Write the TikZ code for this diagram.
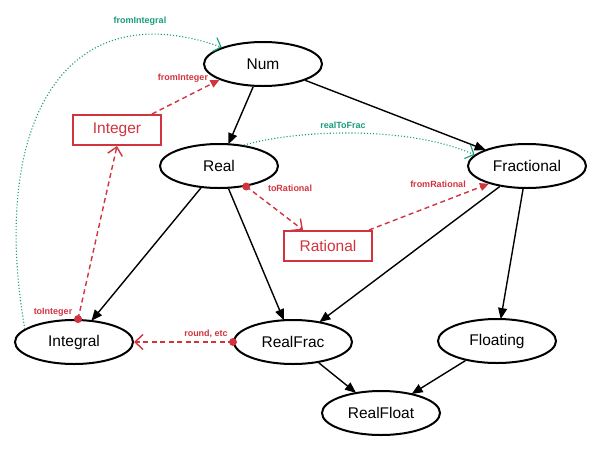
\documentclass[tikz,border=0pt]{standalone}
\usepackage{fontspec}
\setmainfont{Liberation Sans}
\usetikzlibrary{arrows.meta,shapes.geometric}
\definecolor{redline}{HTML}{D1343F}
\definecolor{greenline}{HTML}{179C7D}

\begin{document}
\begin{tikzpicture}[x=1pt, y=-1pt, font=\fontsize{15.5}{17}\selectfont,
	cls/.style={ellipse, draw, line width=2pt, minimum width=118pt, minimum height=44pt, inner sep=0pt},
	typ/.style={rectangle, draw=redline, text=redline, line width=2pt, minimum width=88pt, minimum height=30pt, inner sep=0pt},
	isa/.style={-{Triangle[length=11pt,width=9pt]}, line width=1.4pt, shorten >=-1pt},
	conv/.style={redline, dash pattern=on 5pt off 3.5pt, line width=1.4pt},
	poly/.style={greenline, dotted, line width=1.1pt},
	lbl/.style={font=\fontsize{9}{10}\selectfont\bfseries, inner sep=1pt},
	dot/.style={circle, fill=redline, inner sep=0pt, minimum size=8pt}]
	\useasboundingbox (0,0) rectangle (600,453);
	%classes
	\node[cls] (num) at (263,64) {Num};
	\node[cls] (real) at (219,166) {Real};
	\node[cls] (fractional) at (527,166) {Fractional};
	\node[cls] (integral) at (74,342) {Integral};
	\node[cls] (realfrac) at (293,342) {RealFrac};
	\node[cls] (floating) at (497,341) {Floating};
	\node[cls] (realfloat) at (381,413) {RealFloat};
	%types
	\node[typ] (integer) at (117,130) {Integer};
	\node[typ] (rational) at (328,246) {Rational};
	%class hierarchy
	\foreach \a/\b in {num/real, num/fractional, real/integral, real/realfrac,
		fractional/realfrac, fractional/floating, realfrac/realfloat, floating/realfloat}
	\draw[isa] (\a) -- (\b);
	%conversions
	\node[dot] (realdot) at (real.-37) {};
	\node[dot] (integraldot) at (integral.80) {};
	\node[dot] (realfracdot) at (realfrac.west) {};
	\coordinate (intstart) at ([xshift=-10pt]integer.north east);
	\coordinate (ratstart) at ([xshift=-4pt]rational.north east);
	\draw[conv, -{Triangle[length=9pt,width=8pt]}] (intstart) -- (num.200);
	\node[lbl, redline] (fromint) at (183,78) {fromInteger};
	\draw[conv, -{Straight Barb[length=8pt,width=15pt]}] (integraldot.center) -- (integer.south);
	\node[lbl, redline] (toint) at (53,312) {toInteger};
	\draw[conv, -{Straight Barb[length=8pt,width=15pt]}] (realdot.center) -- ([xshift=20pt]rational.north west);
	\node[lbl, redline] (torat) at (290,188) {toRational};
	\draw[conv, -{Triangle[length=9pt,width=8pt]}] (ratstart) -- (fractional.205);
	\node[lbl, redline] (fromrat) at (438,184) {fromRational};
	\draw[conv, -{Straight Barb[length=8pt,width=15pt]}] (realfracdot.center) -- (integral.east);
	\node[lbl, redline] (round) at (206,334) {round, etc};
	%polymorphic
	\draw[poly, -{Straight Barb[length=7pt,width=15pt]}] (integral.165) .. controls (-10,130) and (60,-10) .. (num.158);
	\node[lbl, greenline] (fromintegral) at (140,21) {fromIntegral};
	\draw[poly, -{Straight Barb[length=7pt,width=15pt]}] (real.40) .. controls (300,129) and (410,126) .. (fractional.168);
	\node[lbl, greenline] (realtofrac) at (343,125) {realToFrac};
\end{tikzpicture}
\end{document}
